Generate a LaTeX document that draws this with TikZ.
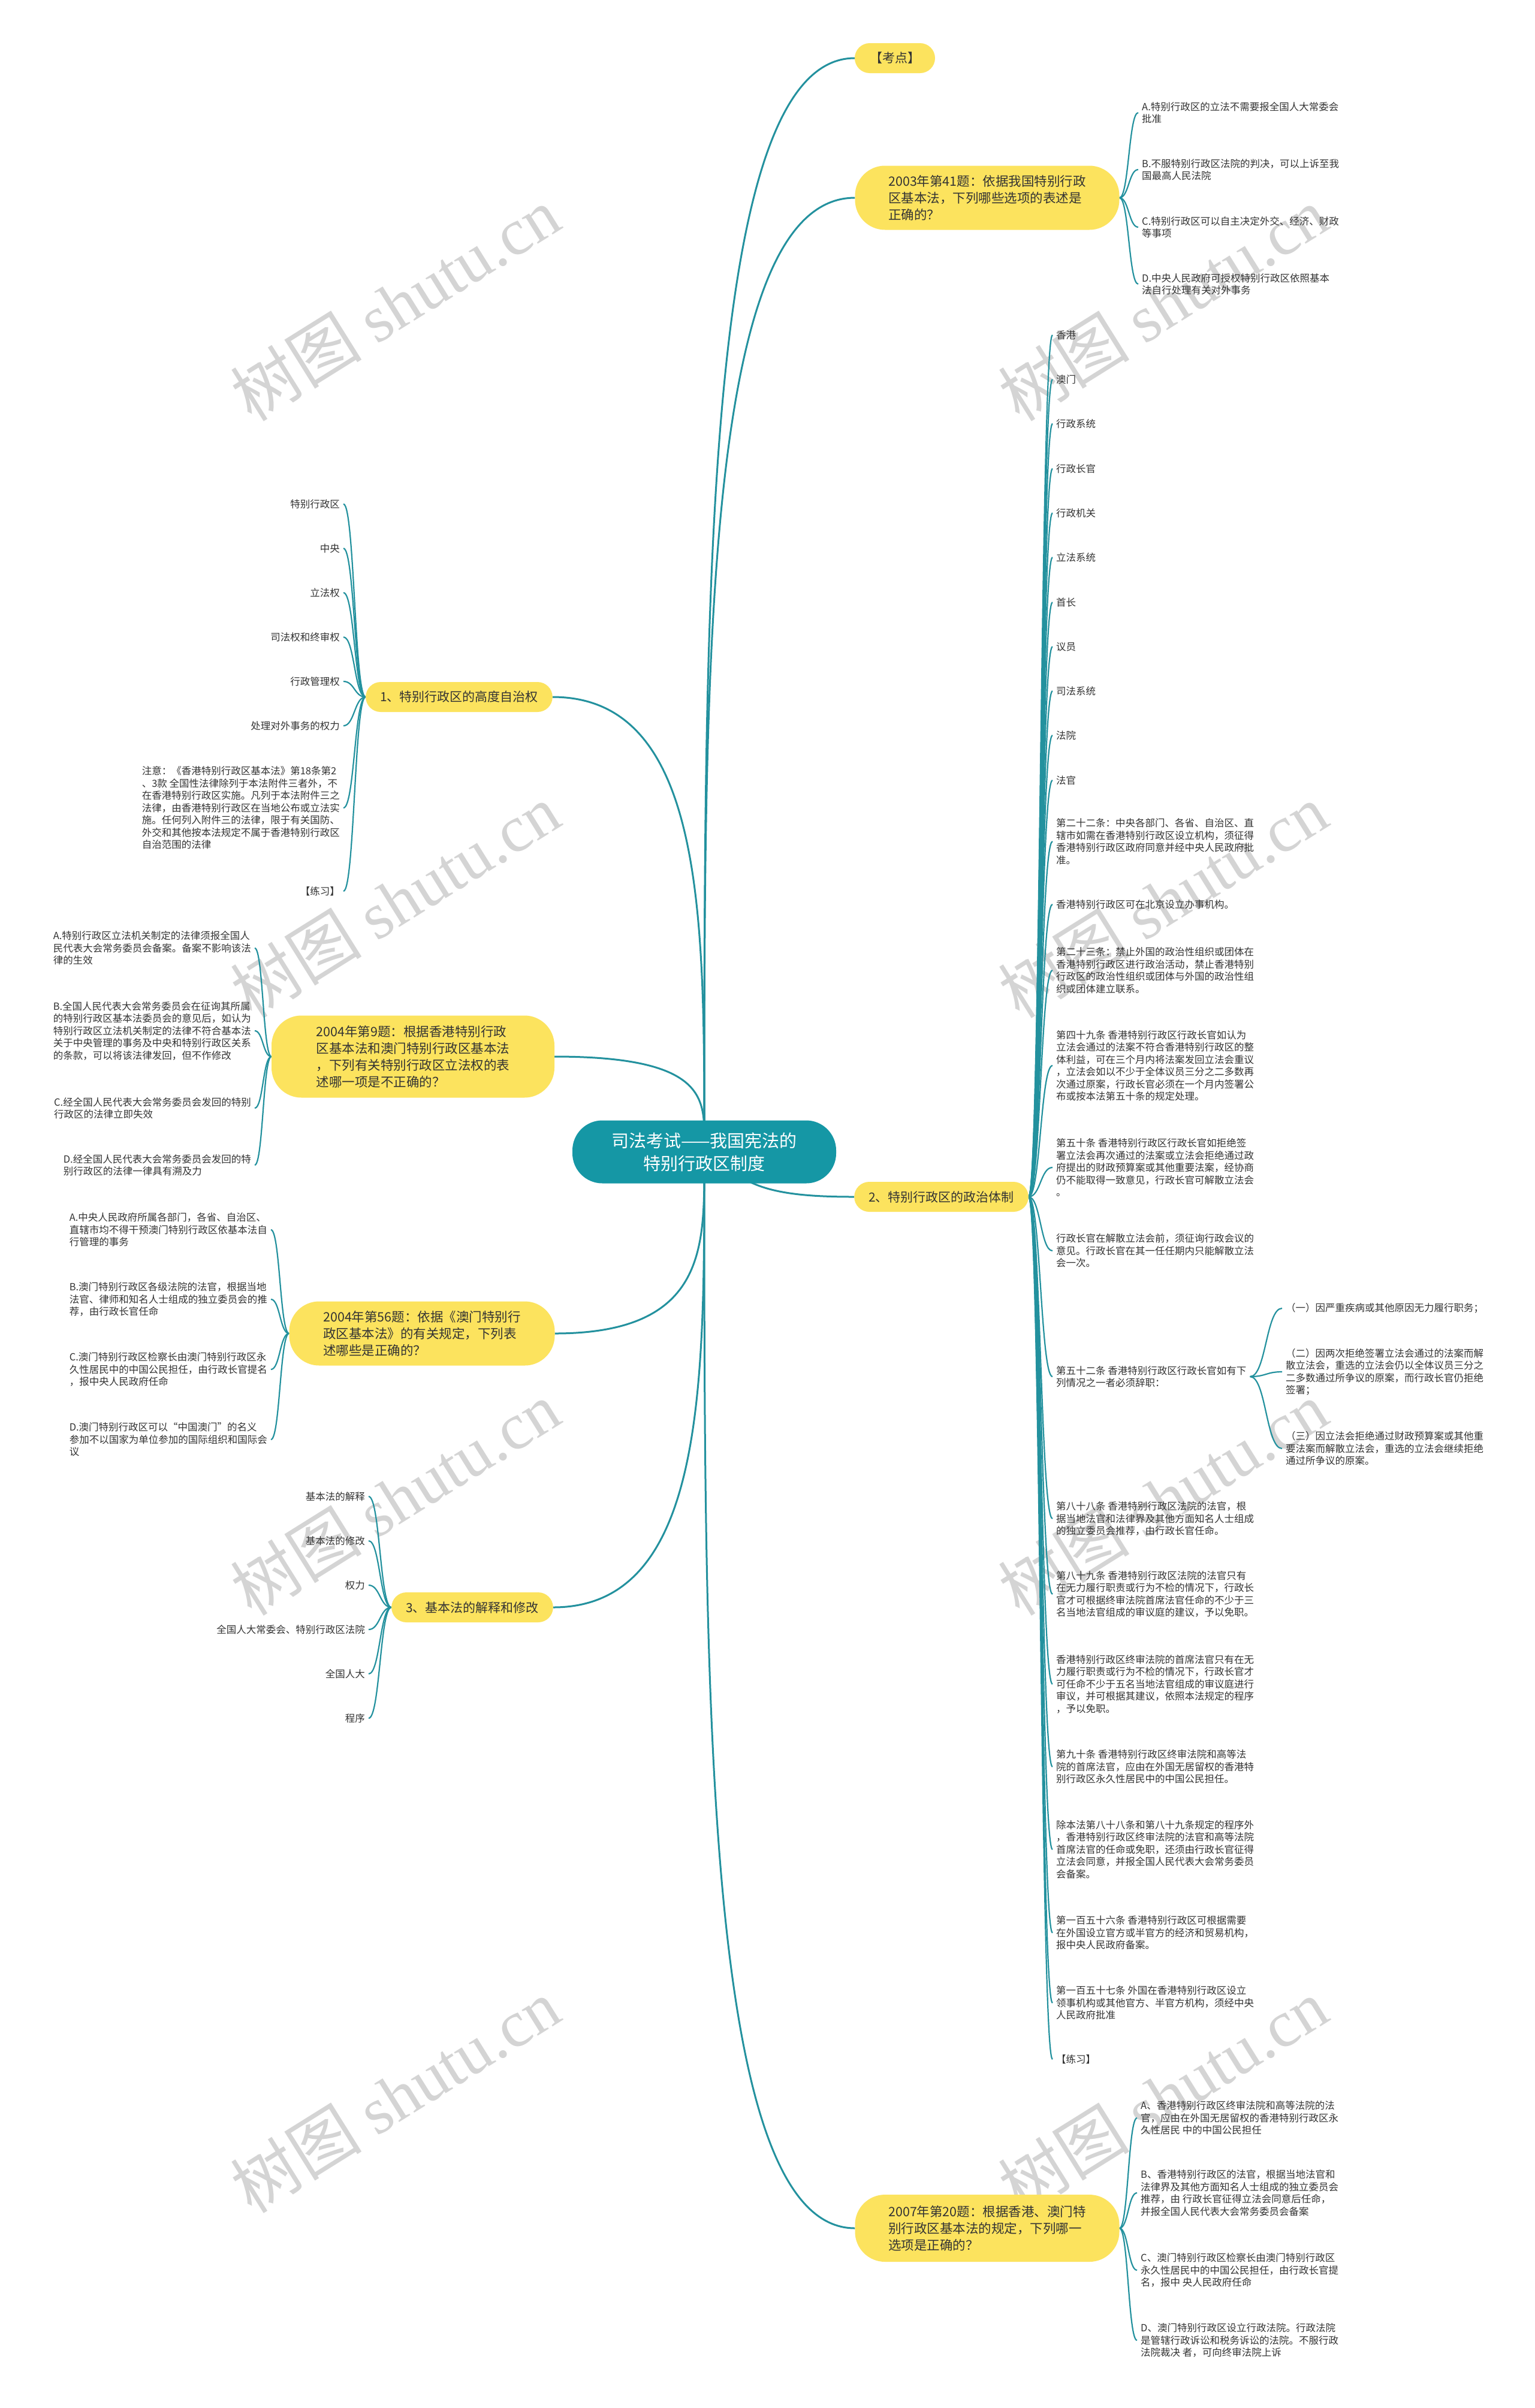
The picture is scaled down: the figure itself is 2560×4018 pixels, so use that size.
\documentclass[tikz,border=0pt]{standalone}
\usepackage{fontspec}
\setmainfont{Noto Sans CJK SC}
\newfontfamily\wmser{Liberation Serif}
\usetikzlibrary{calc}
\definecolor{ylw}{HTML}{FCE35E}
\definecolor{rootc}{HTML}{1597A5}
\definecolor{lnc}{HTML}{23919E}
\definecolor{txt}{HTML}{333333}
\definecolor{wmc}{HTML}{D4D4D4}
\pgfdeclarelayer{wm}
\pgfdeclarelayer{bg}
\pgfsetlayers{wm,bg,main}
\newcommand\leaffont{\fontsize{16.5}{20.5}\selectfont}
\newcommand\topicfont{\fontsize{21}{26}\selectfont}
\newcommand\qfont{\fontsize{21.5}{28}\selectfont}
\newcommand\rootfont{\fontsize{29}{38}\selectfont}
\newcommand\rbranch[2]{\draw[conn] (#1.east) .. controls ($(#1.east)!0.5!(#1.east-|#2.west)$) and ($(#1.east|-#2.west)!0.5!(#2.west)$) .. (#2.west);}
\newcommand\lbranch[2]{\draw[conn] (#1.west) .. controls ($(#1.west)!0.5!(#1.west-|#2.east)$) and ($(#1.west|-#2.east)!0.5!(#2.east)$) .. (#2.east);}
\tikzset{
  conn/.style={draw=lnc, line width=2.2pt},
  mainconn/.style={draw=lnc, line width=3pt},
  leaf/.style={font=\leaffont, text=txt, inner xsep=6pt, inner ysep=2pt, align=left},
  topic/.style={fill=ylw, rounded corners=25pt, minimum height=50pt, inner xsep=24pt, font=\topicfont, text=txt},
  qnode/.style={fill=ylw, rounded corners=50pt, font=\qfont, text=txt, align=left, inner sep=0pt},
  rootnode/.style={fill=rootc, rounded corners=50pt, font=\rootfont, text=white, align=center, inner sep=0pt, minimum width=440pt, minimum height=105pt},
  wmark/.style={text=wmc, font=\fontsize{110}{120}\selectfont, rotate=32, inner sep=0pt}
}
\begin{document}
\begin{tikzpicture}[x=1pt,y=-1pt]
\useasboundingbox (0,0) rectangle (2560,4018);
\begin{pgfonlayer}{wm}
\fill[white] (0,0) rectangle (2560,4018);
\node[wmark] (w1) at (659,507) {树图 {\wmser shutu.cn}};
\node[wmark] (w2) at (1940,507) {树图 {\wmser shutu.cn}};
\node[wmark] (w3) at (659,1503) {树图 {\wmser shutu.cn}};
\node[wmark] (w4) at (1940,1503) {树图 {\wmser shutu.cn}};
\node[wmark] (w5) at (659,2500) {树图 {\wmser shutu.cn}};
\node[wmark] (w6) at (1940,2500) {树图 {\wmser shutu.cn}};
\node[wmark] (w7) at (659,3497) {树图 {\wmser shutu.cn}};
\node[wmark] (w8) at (1940,3497) {树图 {\wmser shutu.cn}};
\end{pgfonlayer}

% root and main nodes
\node[rootnode] (root) at (1175,1922) {司法考试——我国宪法的\\特别行政区制度};
\node[topic, minimum width=134pt] (kd) at (1493,97) {【考点】};
\node[qnode, minimum width=441pt, minimum height=107pt] (q03) at (1647,330) {2003年第41题：依据我国特别行政\\区基本法，下列哪些选项的表述是\\正确的？};
\node[topic, anchor=east] (n1) at (922,1163) {1、特别行政区的高度自治权};
\node[qnode, minimum width=472pt, minimum height=137pt] (q9) at (689,1763) {2004年第9题：根据香港特别行政\\区基本法和澳门特别行政区基本法\\，下列有关特别行政区立法权的表\\述哪一项是不正确的？};
\node[qnode, minimum width=443pt, minimum height=107pt] (q56) at (704,2225) {2004年第56题：依据《澳门特别行\\政区基本法》的有关规定，下列表\\述哪些是正确的？};
\node[topic, anchor=east] (n3) at (923,2682) {3、基本法的解释和修改};
\node[topic, anchor=west] (n2) at (1425,1997) {2、特别行政区的政治体制};
\node[qnode, minimum width=441pt, minimum height=112pt] (q07) at (1647,3718) {2007年第20题：根据香港、澳门特\\别行政区基本法的规定，下列哪一\\选项是正确的？};

% 2003 options
\node[leaf, anchor=west] (o1) at (1899,188) {A.特别行政区的立法不需要报全国人大常委会\\批准};
\node[leaf, anchor=west] (o2) at (1899,283) {B.不服特别行政区法院的判决，可以上诉至我\\国最高人民法院};
\node[leaf, anchor=west] (o3) at (1899,379) {C.特别行政区可以自主决定外交、经济、财政\\等事项};
\node[leaf, anchor=west] (o4) at (1899,474) {D.中央人民政府可授权特别行政区依照基本\\法自行处理有关对外事务};

% node 2 leaves
\node[leaf, anchor=west] (r1) at (1756,559) {香港};
\node[leaf, anchor=west] (r2) at (1756,633) {澳门};
\node[leaf, anchor=west] (r3) at (1756,707) {行政系统};
\node[leaf, anchor=west] (r4) at (1756,782) {行政长官};
\node[leaf, anchor=west] (r5) at (1756,856) {行政机关};
\node[leaf, anchor=west] (r6) at (1756,930) {立法系统};
\node[leaf, anchor=west] (r7) at (1756,1005) {首长};
\node[leaf, anchor=west] (r8) at (1756,1079) {议员};
\node[leaf, anchor=west] (r9) at (1756,1153) {司法系统};
\node[leaf, anchor=west] (r10) at (1756,1227) {法院};
\node[leaf, anchor=west] (r11) at (1756,1302) {法官};
\node[leaf, anchor=west] (r12) at (1756,1404) {第二十二条：中央各部门、各省、自治区、直\\辖市如需在香港特别行政区设立机构，须征得\\香港特别行政区政府同意并经中央人民政府批\\准。};
\node[leaf, anchor=west] (r13) at (1756,1509) {香港特别行政区可在北京设立办事机构。};
\node[leaf, anchor=west] (r14) at (1756,1619) {第二十三条：禁止外国的政治性组织或团体在\\香港特别行政区进行政治活动，禁止香港特别\\行政区的政治性组织或团体与外国的政治性组\\织或团体建立联系。};
\node[leaf, anchor=west] (r15) at (1756,1778) {第四十九条 香港特别行政区行政长官如认为\\立法会通过的法案不符合香港特别行政区的整\\体利益，可在三个月内将法案发回立法会重议\\，立法会如以不少于全体议员三分之二多数再\\次通过原案，行政长官必须在一个月内签署公\\布或按本法第五十条的规定处理。};
\node[leaf, anchor=west] (r16) at (1756,1948) {第五十条 香港特别行政区行政长官如拒绝签\\署立法会再次通过的法案或立法会拒绝通过政\\府提出的财政预算案或其他重要法案，经协商\\仍不能取得一致意见，行政长官可解散立法会\\。};
\node[leaf, anchor=west] (r17) at (1756,2087) {行政长官在解散立法会前，须征询行政会议的\\意见。行政长官在其一任任期内只能解散立法\\会一次。};
\node[leaf, anchor=west] (r18) at (1756,2297) {第五十二条 香港特别行政区行政长官如有下\\列情况之一者必须辞职：};
\node[leaf, anchor=west] (r19) at (1756,2534) {第八十八条 香港特别行政区法院的法官，根\\据当地法官和法律界及其他方面知名人士组成\\的独立委员会推荐，由行政长官任命。};
\node[leaf, anchor=west] (r20) at (1756,2660) {第八十九条 香港特别行政区法院的法官只有\\在无力履行职责或行为不检的情况下，行政长\\官才可根据终审法院首席法官任命的不少于三\\名当地法官组成的审议庭的建议，予以免职。};
\node[leaf, anchor=west] (r21) at (1756,2810) {香港特别行政区终审法院的首席法官只有在无\\力履行职责或行为不检的情况下，行政长官才\\可任命不少于五名当地法官组成的审议庭进行\\审议，并可根据其建议，依照本法规定的程序\\，予以免职。};
\node[leaf, anchor=west] (r22) at (1756,2948) {第九十条 香港特别行政区终审法院和高等法\\院的首席法官，应由在外国无居留权的香港特\\别行政区永久性居民中的中国公民担任。};
\node[leaf, anchor=west] (r23) at (1756,3086) {除本法第八十八条和第八十九条规定的程序外\\，香港特别行政区终审法院的法官和高等法院\\首席法官的任命或免职，还须由行政长官征得\\立法会同意，并报全国人民代表大会常务委员\\会备案。};
\node[leaf, anchor=west] (r24) at (1756,3225) {第一百五十六条 香港特别行政区可根据需要\\在外国设立官方或半官方的经济和贸易机构，\\报中央人民政府备案。};
\node[leaf, anchor=west] (r25) at (1756,3342) {第一百五十七条 外国在香港特别行政区设立\\领事机构或其他官方、半官方机构，须经中央\\人民政府批准};
\node[leaf, anchor=west] (r26) at (1756,3436) {【练习】};

% article 52 sub items
\node[leaf, anchor=west] (s1) at (2139,2183) {（一）因严重疾病或其他原因无力履行职务；};
\node[leaf, anchor=west] (s2) at (2139,2289) {（二）因两次拒绝签署立法会通过的法案而解\\散立法会，重选的立法会仍以全体议员三分之\\二多数通过所争议的原案，而行政长官仍拒绝\\签署；};
\node[leaf, anchor=west] (s3) at (2139,2417) {（三）因立法会拒绝通过财政预算案或其他重\\要法案而解散立法会，重选的立法会继续拒绝\\通过所争议的原案。};

% 2007 options
\node[leaf, anchor=west] (p1) at (1897,3534) {A、香港特别行政区终审法院和高等法院的法\\官，应由在外国无居留权的香港特别行政区永\\久性居民 中的中国公民担任};
\node[leaf, anchor=west] (p2) at (1897,3659) {B、香港特别行政区的法官，根据当地法官和\\法律界及其他方面知名人士组成的独立委员会\\推荐，由 行政长官征得立法会同意后任命，\\并报全国人民代表大会常务委员会备案};
\node[leaf, anchor=west] (p3) at (1897,3788) {C、澳门特别行政区检察长由澳门特别行政区\\永久性居民中的中国公民担任，由行政长官提\\名，报中 央人民政府任命};
\node[leaf, anchor=west] (p4) at (1897,3905) {D、澳门特别行政区设立行政法院。行政法院\\是管辖行政诉讼和税务诉讼的法院。不服行政\\法院裁决 者，可向终审法院上诉};

% node 1 leaves
\node[leaf, anchor=east] (a1) at (573,841) {特别行政区};
\node[leaf, anchor=east] (a2) at (573,915) {中央};
\node[leaf, anchor=east] (a3) at (573,989) {立法权};
\node[leaf, anchor=east] (a4) at (573,1063) {司法权和终审权};
\node[leaf, anchor=east] (a5) at (573,1137) {行政管理权};
\node[leaf, anchor=east] (a6) at (573,1211) {处理对外事务的权力};
\node[leaf, anchor=east] (a7) at (573,1348) {注意：《香港特别行政区基本法》第18条第2\\、3款 全国性法律除列于本法附件三者外，不\\在香港特别行政区实施。凡列于本法附件三之\\法律，由香港特别行政区在当地公布或立法实\\施。任何列入附件三的法律，限于有关国防、\\外交和其他按本法规定不属于香港特别行政区\\自治范围的法律};
\node[leaf, anchor=east] (a8) at (573,1487) {【练习】};

% 2004 Q9 options
\node[leaf, anchor=east] (b1) at (425,1582) {A.特别行政区立法机关制定的法律须报全国人\\民代表大会常务委员会备案。备案不影响该法\\律的生效};
\node[leaf, anchor=east] (b2) at (425,1720) {B.全国人民代表大会常务委员会在征询其所属\\的特别行政区基本法委员会的意见后，如认为\\特别行政区立法机关制定的法律不符合基本法\\关于中央管理的事务及中央和特别行政区关系\\的条款，可以将该法律发回，但不作修改};
\node[leaf, anchor=east] (b3) at (425,1849) {C.经全国人民代表大会常务委员会发回的特别\\行政区的法律立即失效};
\node[leaf, anchor=east] (b4) at (425,1944) {D.经全国人民代表大会常务委员会发回的特\\别行政区的法律一律具有溯及力};

% 2004 Q56 options
\node[leaf, anchor=east] (c1) at (452,2052) {A.中央人民政府所属各部门，各省、自治区、\\直辖市均不得干预澳门特别行政区依基本法自\\行管理的事务};
\node[leaf, anchor=east] (c2) at (452,2168) {B.澳门特别行政区各级法院的法官，根据当地\\法官、律师和知名人士组成的独立委员会的推\\荐，由行政长官任命};
\node[leaf, anchor=east] (c3) at (452,2285) {C.澳门特别行政区检察长由澳门特别行政区永\\久性居民中的中国公民担任，由行政长官提名\\，报中央人民政府任命};
\node[leaf, anchor=east] (c4) at (452,2402) {D.澳门特别行政区可以“中国澳门”的名义\\参加不以国家为单位参加的国际组织和国际会\\议};

% node 3 leaves
\node[leaf, anchor=east] (d1) at (615,2497) {基本法的解释};
\node[leaf, anchor=east] (d2) at (615,2571) {基本法的修改};
\node[leaf, anchor=east] (d3) at (615,2645) {权力};
\node[leaf, anchor=east] (d4) at (615,2719) {全国人大常委会、特别行政区法院};
\node[leaf, anchor=east] (d5) at (615,2793) {全国人大};
\node[leaf, anchor=east] (d6) at (615,2867) {程序};

\coordinate (rtop) at (1175,1900);
\coordinate (rbot) at (1175,1945);
\coordinate (rbr) at (1225,1955);

\begin{pgfonlayer}{bg}
% root connectors
\draw[mainconn] (rtop) .. controls ($(rtop)!0.5!(rtop|-kd.west)$) and (rtop|-kd.west) .. (kd.west);
\draw[mainconn] (rtop) .. controls ($(rtop)!0.5!(rtop|-q03.west)$) and (rtop|-q03.west) .. (q03.west);
\draw[mainconn] (rtop) .. controls ($(rtop)!0.5!(rtop|-n1.east)$) and (rtop|-n1.east) .. (n1.east);
\draw[mainconn] (rtop) .. controls ($(rtop)!0.5!(rtop|-q9.east)$) and (rtop|-q9.east) .. (q9.east);
\draw[mainconn] (rbot) .. controls ($(rbot)!0.5!(rbot|-q56.east)$) and (rbot|-q56.east) .. (q56.east);
\draw[mainconn] (rbot) .. controls ($(rbot)!0.5!(rbot|-n3.east)$) and (rbot|-n3.east) .. (n3.east);
\draw[mainconn] (rbot) .. controls ($(rbot)!0.5!(rbot|-q07.west)$) and (rbot|-q07.west) .. (q07.west);
\draw[mainconn] (rbr) .. controls ($(rbr)+(40,35)$) and ($(n2.west)+(-90,0)$) .. (n2.west);
% branches
\foreach \l in {o1,o2,o3,o4} {\rbranch{q03}{\l}}
\foreach \l in {r1,r2,r3,r4,r5,r6,r7,r8,r9,r10,r11,r12,r13,r14,r15,r16,r17,r18,r19,r20,r21,r22,r23,r24,r25,r26} {\rbranch{n2}{\l}}
\foreach \l in {s1,s2,s3} {\rbranch{r18}{\l}}
\foreach \l in {p1,p2,p3,p4} {\rbranch{q07}{\l}}
\foreach \l in {a1,a2,a3,a4,a5,a6,a7,a8} {\lbranch{n1}{\l}}
\foreach \l in {b1,b2,b3,b4} {\lbranch{q9}{\l}}
\foreach \l in {c1,c2,c3,c4} {\lbranch{q56}{\l}}
\foreach \l in {d1,d2,d3,d4,d5,d6} {\lbranch{n3}{\l}}
\end{pgfonlayer}
\end{tikzpicture}
\end{document}
